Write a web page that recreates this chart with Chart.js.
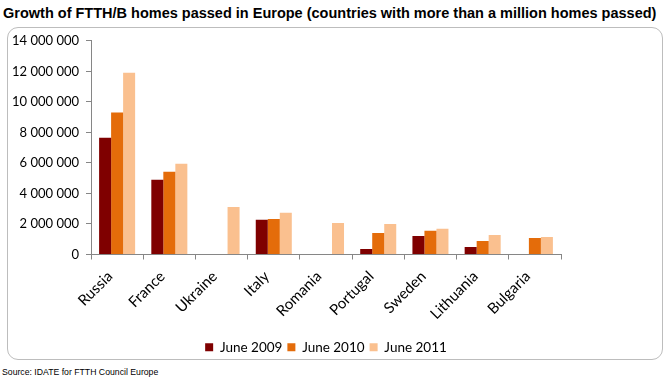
<!DOCTYPE html>
<html>
<head>
<meta charset="utf-8">
<script src="https://cdn.jsdelivr.net/npm/chart.js@4"></script>
<style>
  html, body { margin: 0; padding: 0; background: #fff; width: 669px; height: 382px; overflow: hidden; }
  #title { position: absolute; left: 3px; top: 5px; font-family: "Liberation Sans", Arial, sans-serif; font-weight: bold; font-size: 14.5px; color: #000; white-space: nowrap; }
  #box { position: absolute; left: 7px; top: 27px; width: 656px; height: 333px; border: 1px solid #bdbdbd; border-radius: 11px; box-sizing: border-box; }
  #wrap { position: absolute; left: 7px; top: 26px; width: 657px; height: 338px; }
  #source { position: absolute; left: 2px; top: 367px; font-family: "Liberation Sans", Arial, sans-serif; font-size: 8.7px; color: #000; white-space: nowrap; }
</style>
</head>
<body>
<div id="title">Growth of FTTH/B homes passed in Europe (countries with more than a million homes passed)</div>
<div id="box"></div>
<div id="wrap"><canvas id="c" width="657" height="338"></canvas></div>
<div id="source">Source: IDATE for FTTH Council Europe</div>
<script>
const categories = ["Russia", "France", "Ukraine", "Italy", "Romania", "Portugal", "Sweden", "Lithuania", "Bulgaria"];
const june2009 = [7650000, 4900000, 0, 2270000, 0, 360000, 1220000, 490000, 0];
const june2010 = [9300000, 5420000, 0, 2330000, 0, 1410000, 1550000, 890000, 1080000];
const june2011 = [11900000, 5950000, 3120000, 2730000, 2070000, 2000000, 1680000, 1280000, 1150000];
const seriesNames = ["June 2009", "June 2010", "June 2011"];
const yTicks = [0, 2000000, 4000000, 6000000, 8000000, 10000000, 12000000, 14000000];

const fmt = v => String(v).replace(/\B(?=(\d{3})+(?!\d))/g, ' ');
const fam = "Lato, 'Open Sans', sans-serif";

new Chart(document.getElementById('c'), {
  type: 'bar',
  data: {
    labels: categories,
    datasets: [
      { label: seriesNames[0], data: june2009, backgroundColor: '#7f0000' },
      { label: seriesNames[1], data: june2010, backgroundColor: '#e46c0a' },
      { label: seriesNames[2], data: june2011, backgroundColor: '#fac08f' }
    ]
  },
  options: {
    responsive: false,
    animation: false,
    devicePixelRatio: 1,
    layout: { padding: { left: 0, right: 103, top: 1.5, bottom: 0 } },
    datasets: { bar: { categoryPercentage: 0.69, barPercentage: 1.0 } },
    plugins: {
      legend: {
        position: 'bottom',
        fullSize: false,
        labels: { boxWidth: 8, boxHeight: 8, padding: 5, color: '#000', font: { family: fam, size: 13.5 } }
      },
      tooltip: { enabled: false }
    },
    scales: {
      x: {
        grid: { display: true, drawOnChartArea: false, offset: true, tickLength: 5, color: '#868686' },
        border: { display: true, color: '#868686', width: 1 },
        ticks: { color: '#000', font: { family: fam, size: 15 }, minRotation: 45, maxRotation: 45, padding: 8, labelOffset: -7 },
        afterFit: s => { s.height = 81; }
      },
      y: {
        min: 0, max: 14000000,
        afterBuildTicks: s => { s.ticks = yTicks.map(v => ({ value: v })); },
        grid: { display: true, drawOnChartArea: false, tickLength: 5, color: '#868686' },
        border: { display: true, color: '#868686', width: 1 },
        ticks: { color: '#000', font: { family: fam, size: 13 }, padding: 7, callback: v => fmt(v) },
        afterFit: s => { s.width = 84; }
      }
    }
  }
});
</script>
</body>
</html>
